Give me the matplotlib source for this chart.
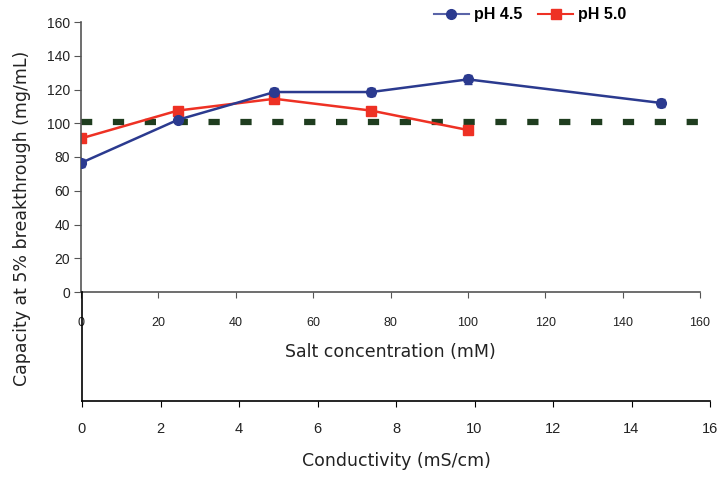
import matplotlib.pyplot as plt

salt_45 = [0, 25, 50, 75, 100, 150]
cap_45 = [76.5, 102, 118.5, 118.5, 126, 112]
err_45 = [2.5, 1.5, 2.5, 2.5, 2.5, 2.5]

salt_50 = [0, 25, 50, 75, 100]
cap_50 = [91, 107.5, 114.5, 107.5, 96]

target = 101
target_span = [0, 160]

salt_ticks = list(range(0, 161, 20))
cond_ticks = list(range(0, 17, 2))
cap_ticks = list(range(0, 161, 20))

blue = "#2b3a8f"
red = "#ee3124"
green = "#1f3d1f"

plt.rcParams["font.family"] = ["Liberation Sans", "DejaVu Sans"]

fig = plt.figure(figsize=(7.2, 4.78), dpi=100)

ax = fig.add_axes([81 / 720, 186 / 478, 619 / 720, 270 / 478])
ax.plot(target_span, [target, target], color=green, lw=4.5,
        linestyle=(0, (1.8, 3.3)), solid_capstyle="butt", zorder=1)
ax.errorbar(salt_45, cap_45, yerr=err_45, color=blue, lw=1.8, marker="o",
            ms=7, capsize=3, elinewidth=1.5, zorder=3)
ax.plot(salt_50, cap_50, color=red, lw=1.8, marker="s", ms=7, zorder=2)

ax.set_xlim(0, 160)
ax.set_ylim(0, 160)
ax.set_xticks(salt_ticks)
ax.set_yticks(cap_ticks)
for s in ["top", "right"]:
    ax.spines[s].set_visible(False)
for s in ["left", "bottom"]:
    ax.spines[s].set_color("#555555")
    ax.spines[s].set_linewidth(1.2)
ax.tick_params(axis="x", direction="out", length=4, pad=14, labelsize=9,
               color="#555555", labelcolor="#222222")
ax.tick_params(axis="y", direction="out", length=5, pad=3, labelsize=10,
               color="#555555", labelcolor="#222222")
narrow = ["Liberation Sans Narrow", "Liberation Sans", "DejaVu Sans"]
for lbl in ax.get_xticklabels() + ax.get_yticklabels():
    lbl.set_family(narrow)
ax.set_xlabel("Salt concentration (mM)", fontsize=12.5, family="DejaVu Sans",
              labelpad=10, color="#222222")

# legend drawn at the top
h1, = ax.plot([], [], color="#5a64a8", lw=1.5, marker="o", ms=7,
              markerfacecolor=blue, markeredgecolor=blue)
h2, = ax.plot([], [], color=red, lw=1.5, marker="s", ms=7)
leg = fig.legend([h1, h2], ["pH 4.5", "pH 5.0"], loc="center",
                 bbox_to_anchor=(530 / 720, 1 - 15 / 478), ncol=2,
                 frameon=False, prop={"weight": "bold", "size": 11.5},
                 handlelength=2.2, handletextpad=0.3, columnspacing=1.0)

ax2 = fig.add_axes([82 / 720, 77 / 478, 628 / 720, 109 / 478])
ax2.set_xlim(0, 16)
ax2.set_xticks(cond_ticks)
ax2.set_yticks([])
ax2.patch.set_alpha(0)
for s in ["top", "right"]:
    ax2.spines[s].set_visible(False)
ax2.spines["bottom"].set_linewidth(1.2)
ax2.spines["left"].set_linewidth(1.2)
ax2.tick_params(axis="x", direction="out", length=4, pad=11, labelsize=10.5,
                labelcolor="#222222")
ax2.set_xlabel("Conductivity (mS/cm)", fontsize=12.5, family="DejaVu Sans",
               labelpad=12, color="#222222")

fig.text(22 / 720, 1 - 218 / 478, "Capacity at 5% breakthrough (mg/mL)",
         rotation=90, ha="center", va="center", fontsize=12.5,
         family="DejaVu Sans", color="#222222")

fig.savefig("out.png", dpi=100)
